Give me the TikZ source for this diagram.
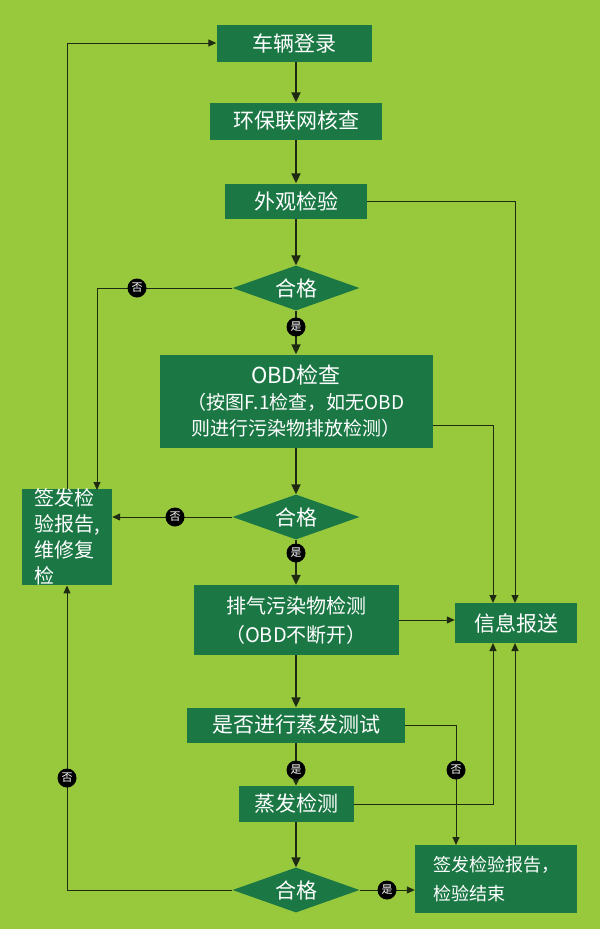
\documentclass[tikz,border=0pt]{standalone}
\usepackage{fontspec}
\setmainfont{Noto Sans CJK SC}
\usetikzlibrary{shapes.geometric,arrows.meta}
\definecolor{bg}{HTML}{98C93C}
\definecolor{bx}{HTML}{1B7845}
\definecolor{ln}{HTML}{1E2A12}
\tikzset{
 bxs/.style={fill=bx,text=white,inner sep=0pt,font=\fontsize{21}{24}\selectfont,align=center},
 dia/.style={diamond,fill=bx,text=white,inner sep=0pt,minimum width=127pt,minimum height=45pt,aspect=2.8,font=\fontsize{21}{24}\selectfont},
 lab/.style={circle,fill=black,text=white,inner sep=0pt,minimum size=19pt,font=\fontsize{11}{12}\selectfont},
 arr/.style={draw=ln,line width=1pt,-{Triangle[length=8pt,width=7pt]}},
 thk/.style={draw=ln,line width=2pt,-{Triangle[length=10pt,width=9pt]}}
}
\begin{document}
\begin{tikzpicture}[x=1pt,y=-1pt]
\fill[bg] (0,0) rectangle (600,929);
\useasboundingbox (0,0) rectangle (600,929);
\node[bxs,minimum width=155pt,minimum height=37pt] (a) at (294,43) {车辆登录};
\node[bxs,minimum width=172pt,minimum height=37pt] (b) at (296,121) {环保联网核查};
\node[bxs,minimum width=142pt,minimum height=35pt] (c) at (296,201) {外观检验};
\node[dia] (d1) at (296,288) {合格};
\node[bxs,minimum width=273pt,minimum height=93pt,font=\fontsize{19}{26}\selectfont] (obd) at (296,401) {{\fontsize{22}{24}\selectfont OBD检查}\\（按图F.1检查，如无OBD\\则进行污染物排放检测）};
\node[dia] (d2) at (296,517) {合格};
\node[bxs,minimum width=205pt,minimum height=70pt,font=\fontsize{20}{29}\selectfont] (p) at (296,620) {排气污染物检测\\（OBD不断开）};
\node[bxs,minimum width=218pt,minimum height=35pt] (q) at (296,725) {是否进行蒸发测试};
\node[bxs,minimum width=115pt,minimum height=36pt] (e) at (296,804) {蒸发检测};
\node[dia] (d3) at (296,890) {合格};
\node[bxs,minimum width=162pt,minimum height=68pt,align=left,font=\fontsize{18}{29}\selectfont] (end) at (496,879) {签发检验报告，\\检验结束};
\node[bxs,minimum width=90pt,minimum height=95pt,align=left,font=\fontsize{20}{26}\selectfont] (l) at (67,537) {签发检\\验报告,\\维修复\\检};
\node[bxs,minimum width=122pt,minimum height=40pt] (info) at (516,623) {信息报送};
% main column
\draw[thk] (a.south -| b) -- (b);
\draw[thk] (b) -- (c);
\draw[thk] (c) -- (d1);
\draw[thk] (d1) -- (obd);
\draw[thk] (obd) -- (d2);
\draw[thk] (d2) -- (p);
\draw[thk] (p) -- (q);
\draw[thk] (q) -- (e);
\draw[thk] (e) -- (d3);
\node[lab] at (296,327) {是};
\node[lab] at (296,553) {是};
\node[lab] at (296,770) {是};
% left side
\draw[arr] (l.north) -- (67,43) -- (a.west);
\draw[arr] (d1.west) -- (97,288) -- (97,490);
\node[lab] at (137,288) {否};
\draw[arr] (d2.west) -- (l.east |- d2.west);
\node[lab] at (175,517) {否};
\draw[arr] (d3.west) -- (67,890) -- (l.south);
\node[lab] at (67,778) {否};
% right side
\draw[arr] (c.east) -- (515,201) -- (515,603);
\draw[arr] (obd.east |- 0,425) -- (493,425) -- (493,603);
\draw[arr] (p.east) -- (info.west |- p.east);
\draw[arr] (q.east) -- (456,725) -- (456,845);
\node[lab] at (456,770) {否};
\draw[arr] (e.east) -- (493,804) -- (493,643);
\draw[arr] (515,845) -- (515,643);
\draw[arr] (d3.east) -- (end.west |- d3.east);
\node[lab] at (387,890) {是};
\end{tikzpicture}
\end{document}
